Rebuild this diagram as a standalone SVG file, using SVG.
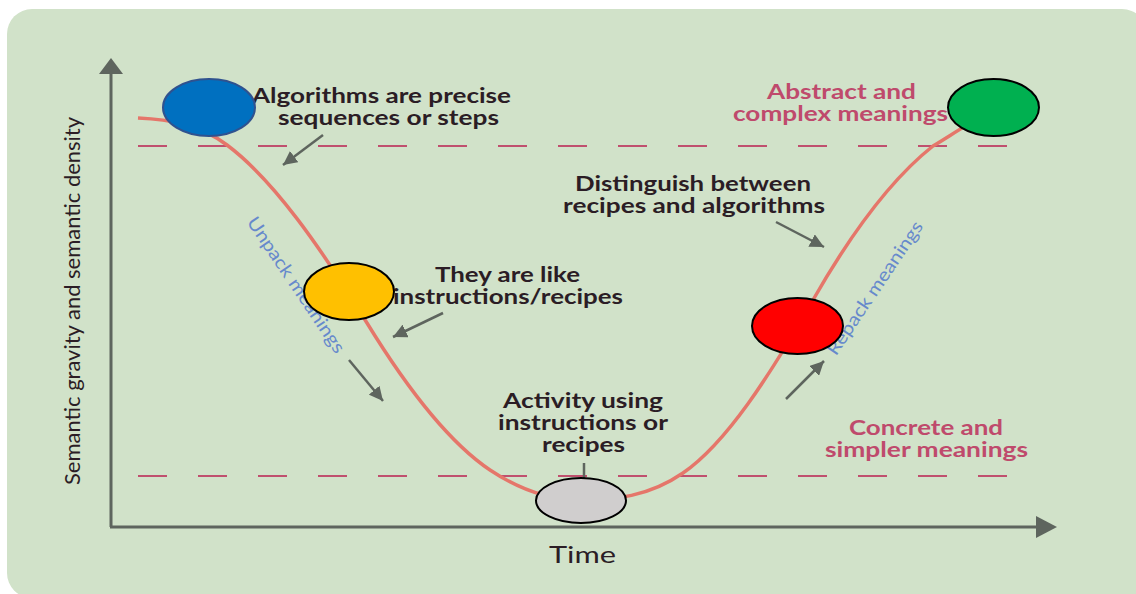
<svg xmlns="http://www.w3.org/2000/svg" width="1136" height="594" viewBox="0 0 1136 594">
<style>
.lbl{font-family:Lato,"Liberation Sans",sans-serif;font-weight:bold;font-size:20px;fill:#2b1d25}
.crim{font-family:Lato,"Liberation Sans",sans-serif;font-weight:bold;font-size:20px;fill:#bf4a6c}
.blue{font-family:Lato,"Liberation Sans",sans-serif;font-size:18px;fill:#6689cc;text-anchor:middle}
.axl{font-family:Lato,"Liberation Sans",sans-serif;font-size:22px;fill:#2b1d25;text-anchor:middle}
.arr{stroke:#5e655e;stroke-width:2.5;fill:none}
.dash{stroke:#c0506e;stroke-width:2;stroke-dasharray:29 31;fill:none}
.node{stroke:#000;stroke-width:2}
</style>
<defs>
<marker id="ah" markerUnits="userSpaceOnUse" markerWidth="16" markerHeight="14" refX="14" refY="7" orient="auto">
<path d="M0,0 L14,7 L0,14 Z" fill="#5e655e"/>
</marker>
</defs>
<rect x="0" y="0" width="1136" height="594" fill="#ffffff"/>
<rect x="7" y="9" width="1140" height="589" rx="25" fill="#d1e2c9"/>
<g id="axes">
<line x1="111" y1="527" x2="111" y2="72" stroke="#5e655e" stroke-width="3"/>
<path d="M99,74 L111,58 L123,74 Z" fill="#5e655e"/>
<line x1="110" y1="527" x2="1038" y2="527" stroke="#5e655e" stroke-width="3"/>
<path d="M1036,516 L1057,527 L1036,538 Z" fill="#5e655e"/>
<text class="axl" transform="translate(80,301) rotate(-90)" textLength="368" lengthAdjust="spacingAndGlyphs">Semantic gravity and semantic density</text>
<text class="axl" x="549" y="563" style="font-size:23px;text-anchor:start" textLength="67" lengthAdjust="spacingAndGlyphs">Time</text>
</g>
<g id="levels">
<line class="dash" x1="138" y1="146" x2="1012" y2="146"/>
<line class="dash" x1="138" y1="476" x2="1012" y2="476"/>
</g>
<path id="curve" d="M138,118 C167.7,119.5 197.3,122.7 227,145 C273.7,180 320.3,246.9 367,323 C408,389.8 449,442.5 490,470 C520,490 550,500 580,500 C614.3,500 648.7,496.7 683,473 C726.3,443.1 769.7,375.8 813,300 C853,230 893,177.6 933,146 C950.3,135.6 967.7,123.7 985,115" fill="none" stroke="#e5766a" stroke-width="3.5"/>
<g id="texts">
<text class="lbl"><tspan x="252" y="103" textLength="259" lengthAdjust="spacingAndGlyphs">Algorithms are precise</tspan><tspan x="278" y="125" textLength="221" lengthAdjust="spacingAndGlyphs">sequences or steps</tspan></text>
<text class="crim"><tspan x="767" y="99" textLength="149" lengthAdjust="spacingAndGlyphs">Abstract and</tspan><tspan x="733" y="121" textLength="215" lengthAdjust="spacingAndGlyphs">complex meanings</tspan></text>
<text class="lbl"><tspan x="575" y="191" textLength="236" lengthAdjust="spacingAndGlyphs">Distinguish between</tspan><tspan x="563" y="213" textLength="262" lengthAdjust="spacingAndGlyphs">recipes and algorithms</tspan></text>
<text class="lbl"><tspan x="435" y="282" textLength="145" lengthAdjust="spacingAndGlyphs">They are like</tspan><tspan x="393" y="304" textLength="230" lengthAdjust="spacingAndGlyphs">instructions/recipes</tspan></text>
<text class="lbl"><tspan x="503" y="408" textLength="160" lengthAdjust="spacingAndGlyphs">Activity using</tspan><tspan x="498" y="430" textLength="170" lengthAdjust="spacingAndGlyphs">instructions or</tspan><tspan x="542" y="452" textLength="83" lengthAdjust="spacingAndGlyphs">recipes</tspan></text>
<text class="crim"><tspan x="849" y="435" textLength="154" lengthAdjust="spacingAndGlyphs">Concrete and</tspan><tspan x="825" y="457" textLength="203" lengthAdjust="spacingAndGlyphs">simpler meanings</tspan></text>
<text class="blue" transform="translate(296,285) rotate(56)" y="6" textLength="160" lengthAdjust="spacingAndGlyphs">Unpack meanings</text>
<text class="blue" transform="translate(875,288) rotate(-56)" y="6" textLength="157" lengthAdjust="spacingAndGlyphs">Repack meanings</text>
</g>
<g id="connectors">
<line class="arr" x1="323" y1="135" x2="283" y2="165" marker-end="url(#ah)"/>
<line class="arr" x1="443" y1="313" x2="393" y2="337" marker-end="url(#ah)"/>
<line class="arr" x1="349" y1="360" x2="383" y2="401" marker-end="url(#ah)"/>
<line class="arr" x1="776" y1="222" x2="824" y2="247" marker-end="url(#ah)"/>
<line class="arr" x1="786" y1="399" x2="824" y2="361" marker-end="url(#ah)"/>
<line class="arr" x1="584" y1="463" x2="584" y2="479"/>
</g>
<g id="node-blue"><ellipse cx="209" cy="107.5" rx="46" ry="28.5" fill="#0070c0" stroke="#2f528f" stroke-width="2"/></g>
<g id="node-green"><ellipse class="node" cx="993.5" cy="107.5" rx="45.5" ry="28.5" fill="#00b050"/></g>
<g id="node-yellow"><ellipse class="node" cx="349" cy="291.5" rx="45" ry="28.5" fill="#ffc000"/></g>
<g id="node-red"><ellipse class="node" cx="797.5" cy="326" rx="45.5" ry="28" fill="#ff0000"/></g>
<g id="node-gray"><ellipse class="node" cx="581" cy="500.5" rx="45" ry="22.5" fill="#d0cece"/></g>
</svg>
